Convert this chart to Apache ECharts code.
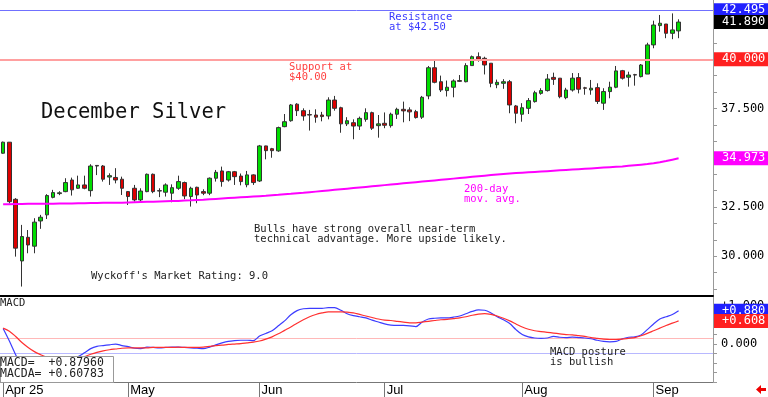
<!DOCTYPE html>
<html>
<head>
<meta charset="utf-8">
<script src="https://cdn.jsdelivr.net/npm/echarts@6/dist/echarts.min.js"></script>
<style>
  html, body { margin: 0; padding: 0; background: #fff; }
  #main { width: 768px; height: 397px; }
</style>
</head>
<body>
<div id="main"></div>
<script>
var MONO = '"DejaVu Sans Mono", monospace';

// trading days per month (Sep has 5 empty slots at the end)
var aprDays = [2, 3, 4, 7, 8, 9, 10, 11, 14, 15, 16, 17, 21, 22, 23, 24, 25, 28, 29, 30];
var mayDays = [1, 2, 5, 6, 7, 8, 9, 12, 13, 14, 15, 16, 19, 20, 21, 22, 23, 27, 28, 29, 30];
var junDays = [2, 3, 4, 5, 6, 9, 10, 11, 12, 13, 16, 17, 18, 20, 23, 24, 25, 26, 27, 30];
var julDays = [1, 2, 3, 7, 8, 9, 10, 11, 14, 15, 16, 17, 18, 21, 22, 23, 24, 25, 28, 29, 30, 31];
var augDays = [1, 4, 5, 6, 7, 8, 11, 12, 13, 14, 15, 18, 19, 20, 21, 22, 25, 26, 27, 28, 29];
var sepDays = [2, 3, 4, 5, 8, 9, 10, 11, 12, 15];
var monthNames = ['Apr 25', 'May', 'Jun', 'Jul', 'Aug', 'Sep'];

var opens = [
  35.23, 35.79, 32.89, 29.76, 30.96, 30.51, 31.79, 32.10, 32.99, 33.18,
  33.28, 33.87, 33.45, 33.62, 33.33, 34.61, 34.58, 34.02, 34.00, 33.91,
  33.28, 33.45, 32.86, 33.28, 34.16, 33.33, 33.25, 33.20, 33.45, 33.74,
  33.03, 33.50, 33.28, 33.20, 33.96, 34.33, 33.87, 34.29, 34.07, 33.63,
  34.13, 33.82, 35.60, 35.46, 35.35, 36.58, 36.88, 37.72, 37.39, 37.19,
  37.17, 37.17, 37.12, 37.93, 37.54, 36.72, 36.78, 36.61, 36.95, 37.29,
  36.63, 36.75, 36.63, 37.21, 37.46, 37.43, 37.34, 37.06, 38.14, 39.57,
  38.86, 38.41, 38.58, 38.92, 38.86, 39.68, 40.13, 40.05, 39.80, 38.71,
  38.78, 38.86, 37.63, 37.21, 37.51, 37.85, 38.27, 38.41, 39.08, 39.04,
  38.05, 38.44, 39.07, 38.55, 38.44, 38.56, 37.77, 38.36, 38.58, 39.42,
  39.09, 39.22, 39.12, 39.25, 40.73, 41.71, 41.79, 41.32, 41.44
];
var closes = [
  35.79, 32.77, 30.41, 31.00, 30.57, 31.73, 31.98, 33.08, 33.23, 33.22,
  33.74, 33.37, 33.62, 33.45, 34.58, 34.58, 33.91, 34.09, 33.87, 33.45,
  33.03, 32.86, 33.31, 34.16, 33.28, 33.31, 33.62, 33.48, 33.79, 33.06,
  33.45, 33.11, 33.20, 33.96, 34.26, 33.79, 34.29, 34.04, 33.79, 34.13,
  33.74, 35.60, 35.36, 35.36, 36.53, 36.83, 37.68, 37.39, 37.12, 37.17,
  37.06, 37.09, 37.93, 37.51, 36.72, 36.88, 36.61, 37.00, 37.29, 36.50,
  36.72, 36.65, 37.21, 37.46, 37.38, 37.33, 37.04, 38.07, 39.57, 38.83,
  38.44, 38.58, 38.90, 38.88, 39.68, 40.13, 40.00, 39.71, 38.78, 38.83,
  38.86, 37.68, 37.26, 37.54, 37.90, 38.30, 38.41, 39.00, 38.98, 38.10,
  38.44, 39.04, 38.48, 38.53, 38.53, 37.86, 38.36, 38.58, 39.41, 39.04,
  39.20, 39.20, 39.71, 40.73, 41.74, 41.83, 41.32, 41.49, 41.89
];
var lows = [
  35.20, 32.68, 29.98, 28.46, 30.15, 30.15, 31.39, 31.89, 32.94, 33.10,
  33.25, 33.08, 33.42, 33.40, 33.03, 34.12, 33.79, 33.62, 33.70, 33.11,
  32.60, 32.77, 32.77, 33.25, 33.20, 33.00, 33.03, 32.74, 33.37, 32.90,
  32.52, 32.69, 33.10, 33.10, 33.79, 33.53, 33.79, 33.62, 33.60, 33.50,
  33.62, 33.77, 34.92, 35.00, 35.30, 36.55, 36.83, 37.12, 36.88, 36.38,
  36.78, 36.85, 36.95, 37.39, 36.27, 36.61, 35.94, 36.41, 36.83, 36.41,
  36.02, 36.50, 36.53, 36.97, 36.80, 36.86, 36.99, 36.97, 37.97, 38.78,
  38.34, 38.11, 38.07, 38.85, 38.83, 39.68, 39.88, 39.23, 38.58, 38.53,
  38.50, 37.26, 36.75, 36.83, 37.22, 37.80, 38.20, 38.36, 38.70, 38.02,
  37.97, 38.36, 38.27, 38.20, 38.20, 37.73, 37.43, 38.02, 38.53, 38.97,
  38.61, 38.66, 39.08, 39.25, 40.56, 41.40, 41.07, 41.02, 41.07
];
var highs = [
  35.82, 35.80, 32.95, 31.59, 31.33, 31.93, 32.10, 33.15, 33.37, 33.30,
  33.96, 33.99, 34.09, 34.09, 34.67, 34.63, 34.63, 34.21, 34.47, 34.04,
  33.31, 33.62, 33.45, 34.20, 34.20, 33.45, 33.70, 33.65, 34.09, 33.79,
  33.53, 33.53, 33.40, 34.00, 34.38, 34.55, 34.33, 34.33, 34.20, 34.33,
  34.16, 35.65, 35.61, 35.50, 36.58, 37.22, 37.73, 37.77, 37.51, 37.43,
  37.46, 37.33, 38.07, 38.14, 37.59, 37.06, 36.95, 37.09, 37.51, 37.34,
  37.17, 37.30, 37.29, 37.54, 37.85, 37.56, 37.43, 38.14, 39.66, 39.96,
  39.17, 38.92, 38.98, 39.20, 39.80, 40.19, 40.35, 40.13, 39.80, 38.97,
  38.99, 38.95, 37.68, 37.77, 38.03, 38.40, 38.53, 39.25, 39.32, 39.04,
  38.55, 39.30, 39.30, 38.60, 38.95, 38.78, 38.53, 38.86, 39.66, 39.46,
  39.37, 39.26, 39.76, 40.84, 41.96, 42.25, 41.79, 42.33, 42.03
];
var ma200 = [
  32.64, 32.64, 32.65, 32.65, 32.66, 32.66, 32.66, 32.67, 32.67, 32.68,
  32.68, 32.68, 32.69, 32.69, 32.70, 32.70, 32.71, 32.71, 32.72, 32.72,
  32.73, 32.74, 32.75, 32.76, 32.77, 32.78, 32.79, 32.80, 32.81, 32.83,
  32.84, 32.86, 32.87, 32.89, 32.91, 32.93, 32.95, 32.97, 32.99, 33.01,
  33.03, 33.05, 33.07, 33.10, 33.12, 33.15, 33.17, 33.20, 33.22, 33.25,
  33.28, 33.31, 33.34, 33.37, 33.40, 33.43, 33.46, 33.49, 33.52, 33.55,
  33.58, 33.61, 33.64, 33.67, 33.70, 33.73, 33.76, 33.79, 33.82, 33.85,
  33.88, 33.91, 33.94, 33.97, 34.00, 34.03, 34.06, 34.09, 34.12, 34.15,
  34.18, 34.20, 34.22, 34.24, 34.26, 34.28, 34.30, 34.32, 34.34, 34.36,
  34.38, 34.40, 34.42, 34.44, 34.46, 34.48, 34.50, 34.52, 34.54, 34.56,
  34.59, 34.62, 34.65, 34.68, 34.72, 34.77, 34.83, 34.90, 34.97
];
var macd = [
  0.41, 0.08, -0.28, -0.60, -0.80, -0.85, -0.80, -0.70, -0.60, -0.52,
  -0.45, -0.38, -0.33, -0.23, -0.12, -0.06, -0.04, -0.02, 0.00, -0.04,
  -0.07, -0.11, -0.12, -0.08, -0.09, -0.10, -0.09, -0.08, -0.08, -0.09,
  -0.10, -0.11, -0.12, -0.08, -0.02, 0.03, 0.07, 0.09, 0.10, 0.10,
  0.09, 0.21, 0.28, 0.35, 0.48, 0.61, 0.77, 0.88, 0.93, 0.94,
  0.94, 0.94, 0.96, 0.96, 0.89, 0.80, 0.75, 0.72, 0.69, 0.63,
  0.58, 0.53, 0.50, 0.49, 0.49, 0.48, 0.46, 0.58, 0.66, 0.68,
  0.69, 0.69, 0.71, 0.74, 0.80, 0.86, 0.90, 0.89, 0.82, 0.72,
  0.64, 0.54, 0.38, 0.25, 0.19, 0.16, 0.15, 0.16, 0.20, 0.18,
  0.17, 0.18, 0.17, 0.16, 0.14, 0.10, 0.07, 0.06, 0.07, 0.14,
  0.18, 0.19, 0.24, 0.38, 0.53, 0.66, 0.72, 0.78, 0.88
];
var macdA = [
  0.42, 0.34, 0.20, 0.04, -0.09, -0.20, -0.28, -0.35, -0.40, -0.43,
  -0.43, -0.41, -0.38, -0.33, -0.27, -0.22, -0.18, -0.15, -0.13, -0.11,
  -0.10, -0.10, -0.10, -0.10, -0.09, -0.09, -0.09, -0.09, -0.08, -0.09,
  -0.09, -0.09, -0.08, -0.06, -0.04, -0.03, -0.01, 0.00, 0.01, 0.03,
  0.05, 0.08, 0.13, 0.19, 0.27, 0.36, 0.45, 0.55, 0.64, 0.72,
  0.78, 0.82, 0.85, 0.85, 0.85, 0.84, 0.82, 0.78, 0.74, 0.70,
  0.66, 0.63, 0.62, 0.60, 0.58, 0.56, 0.56, 0.58, 0.60, 0.62,
  0.64, 0.65, 0.67, 0.69, 0.72, 0.76, 0.79, 0.80, 0.78, 0.74,
  0.68, 0.61, 0.53, 0.45, 0.39, 0.35, 0.33, 0.31, 0.29, 0.27,
  0.25, 0.24, 0.22, 0.20, 0.17, 0.15, 0.13, 0.12, 0.12, 0.13,
  0.15, 0.17, 0.22, 0.28, 0.35, 0.42, 0.49, 0.55, 0.61
];

var resistance = 42.495;
var support = 40.0;
var lastClose = 41.890;
var lastMa = 34.973;
var lastMacd = 0.87960;
var lastMacdA = 0.60783;
var macdUpper = 0.16;
var macdLower = -0.24;
var priceLabels = [30, 32.5, 37.5];
var macdLabels = [0, 1];

// categories
var dates = [];
var monthStart = {};
[aprDays, mayDays, junDays, julDays, augDays, sepDays].forEach(function (days, m) {
  monthStart[dates.length] = monthNames[m];
  days.forEach(function (d) {
    dates.push(monthNames[m].slice(0, 3) + ' ' + d);
  });
});

var candleData = opens.map(function (o, i) {
  return [o, closes[i], lows[i], highs[i]];
});

var priceTicks = [];
for (var t = 28.333; t < 43; t += 2.5 / 3) priceTicks.push(+t.toFixed(3));
var macdTicks = [];
for (var k = -1; k <= 1.2; k += 0.25) macdTicks.push(k);

function isMonthStart(index) {
  return monthStart[index] !== undefined;
}

function boxLabel(text, bg) {
  return {
    show: true,
    position: 'end',
    distance: 1,
    formatter: text,
    color: '#fff',
    backgroundColor: bg,
    padding: [1, 6, 1, 8],
    fontFamily: MONO,
    fontSize: 12,
    lineHeight: 12
  };
}

var hidden = { color: 'rgba(0,0,0,0)', width: 0, type: 'solid' };

var chart = echarts.init(document.getElementById('main'));

var option = {
  animation: false,
  backgroundColor: '#fff',
  grid: [
    { left: 0, right: 55, top: 0, height: 296 },
    { left: 0, right: 55, top: 297, height: 85 }
  ],
  xAxis: [
    {
      type: 'category', gridIndex: 0, data: dates, boundaryGap: true,
      axisLine: { onZero: false, lineStyle: { color: '#000', width: 2 } },
      axisTick: { show: false }, axisLabel: { show: false },
      splitLine: { show: false }
    },
    {
      type: 'category', gridIndex: 1, data: dates, boundaryGap: true,
      axisLine: { onZero: false, lineStyle: { color: '#777', width: 1 } },
      axisTick: {
        show: true, alignWithLabel: true, length: 15,
        interval: isMonthStart,
        lineStyle: { color: '#777' }
      },
      axisLabel: {
        show: true, interval: isMonthStart, align: 'left',
        margin: 2, padding: [0, 0, 0, 2],
        color: '#000', fontFamily: '"Liberation Sans", Arial, sans-serif', fontSize: 13,
        formatter: function (v, i) { return monthStart[i] || ''; }
      },
      splitLine: { show: false }
    }
  ],
  yAxis: [
    {
      type: 'value', gridIndex: 0, position: 'right',
      min: 27.98, max: 43.01,
      axisLine: { show: true, lineStyle: { color: '#999' } },
      axisTick: { show: true, customValues: priceTicks, length: 4, lineStyle: { color: '#999' } },
      axisLabel: {
        customValues: priceLabels, margin: 8, color: '#000',
        fontFamily: MONO, fontSize: 12,
        formatter: function (v) { return v.toFixed(3); }
      },
      splitLine: { show: false }
    },
    {
      type: 'value', gridIndex: 1, position: 'right',
      min: -1, max: 1.24,
      axisLine: { show: true, lineStyle: { color: '#999' } },
      axisTick: { show: true, customValues: macdTicks, length: 4, lineStyle: { color: '#999' } },
      axisLabel: {
        customValues: macdLabels, margin: 8, color: '#000',
        fontFamily: MONO, fontSize: 12,
        formatter: function (v) { return (v > 0 ? '+' : '') + v.toFixed(3); }
      },
      splitLine: { show: false }
    }
  ],
  series: [
    {
      name: 'December Silver',
      type: 'candlestick',
      xAxisIndex: 0, yAxisIndex: 0,
      data: candleData,
      barWidth: 4,
      itemStyle: {
        color: '#00dd00', color0: '#dd0000',
        borderColor: '#333', borderColor0: '#333', borderWidth: 1
      },
      markLine: {
        silent: true, symbol: 'none', z: 3,
        data: [
          { yAxis: resistance, lineStyle: { color: '#7070ff', width: 1, type: 'solid' }, label: boxLabel('42.495', '#2020ff') },
          { yAxis: support, lineStyle: { color: '#ffa0a0', width: 2, type: 'solid' }, label: boxLabel('40.000', '#ff2020') },
          { yAxis: lastClose, lineStyle: hidden, label: boxLabel('41.890', '#000') }
        ]
      }
    },
    {
      name: '200-day',
      type: 'line',
      xAxisIndex: 0, yAxisIndex: 0,
      data: ma200,
      showSymbol: false,
      lineStyle: { color: '#ff00ff', width: 2 },
      itemStyle: { color: '#ff00ff' },
      markLine: {
        silent: true, symbol: 'none',
        data: [{ yAxis: lastMa, lineStyle: hidden, label: boxLabel('34.973', '#ff00ff') }]
      }
    },
    {
      name: 'MACD',
      type: 'line',
      xAxisIndex: 1, yAxisIndex: 1,
      data: macd,
      showSymbol: false, smooth: 0.3,
      lineStyle: { color: '#3c3cff', width: 1.2 },
      itemStyle: { color: '#3c3cff' },
      markLine: {
        silent: true, symbol: 'none', z: 1,
        data: [
          { yAxis: macdUpper, lineStyle: { color: '#ffb8b8', width: 1, type: 'solid' }, label: { show: false } },
          { yAxis: macdLower, lineStyle: { color: '#b8b8ff', width: 1, type: 'solid' }, label: { show: false } },
          { yAxis: lastMacd, lineStyle: hidden, label: boxLabel('+0.880', '#2020ff') }
        ]
      }
    },
    {
      name: 'MACDA',
      type: 'line',
      xAxisIndex: 1, yAxisIndex: 1,
      data: macdA,
      showSymbol: false, smooth: 0.3,
      lineStyle: { color: '#ff3030', width: 1.2 },
      itemStyle: { color: '#ff3030' },
      markLine: {
        silent: true, symbol: 'none',
        data: [{ yAxis: lastMacdA, lineStyle: hidden, label: boxLabel('+0.608', '#ff2020') }]
      }
    }
  ],
  graphic: [
    { type: 'text', x: 389, y: 12, z: 50, style: { text: 'Resistance\nat $42.50', fill: '#3a3aff', font: '10.5px ' + MONO, lineHeight: 10.5, verticalAlign: 'top' } },
    { type: 'text', x: 289, y: 62, z: 50, style: { text: 'Support at\n$40.00', fill: '#ff4040', font: '10.5px ' + MONO, lineHeight: 10.5, verticalAlign: 'top' } },
    { type: 'text', x: 41, y: 102, z: 50, style: { text: 'December Silver', fill: '#111', font: '20.5px ' + MONO, verticalAlign: 'top' } },
    { type: 'text', x: 464, y: 184, z: 50, style: { text: '200-day\nmov. avg.', fill: '#ff00ff', font: '10.5px ' + MONO, lineHeight: 10.5, verticalAlign: 'top' } },
    { type: 'text', x: 254, y: 224, z: 50, style: { text: 'Bulls have strong overall near-term\ntechnical advantage. More upside likely.', fill: '#222', font: '10.5px ' + MONO, lineHeight: 10.5, verticalAlign: 'top' } },
    { type: 'text', x: 91, y: 271, z: 50, style: { text: "Wyckoff's Market Rating: 9.0", fill: '#222', font: '10.5px ' + MONO, verticalAlign: 'top' } },
    { type: 'text', x: 0, y: 298, z: 50, style: { text: 'MACD', fill: '#222', font: '10.5px ' + MONO, verticalAlign: 'top' } },
    { type: 'text', x: 550, y: 347, z: 50, style: { text: 'MACD posture\nis bullish', fill: '#222', font: '10.5px ' + MONO, lineHeight: 10.5, verticalAlign: 'top' } },
    {
      type: 'rect', z: 60,
      shape: { x: 0.5, y: 356.5, width: 113, height: 26 },
      style: { fill: '#fff', stroke: '#999', lineWidth: 1 }
    },
    { type: 'text', x: 0, y: 358, z: 61, style: { text: 'MACD=  +' + lastMacd.toFixed(5) + '\nMACDA= +' + lastMacdA.toFixed(5), fill: '#222', font: '11.5px ' + MONO, lineHeight: 11, verticalAlign: 'top' } },
    {
      type: 'polygon', z: 50,
      shape: { points: [[756, 389.5], [761, 385], [761, 388], [766, 388], [766, 391], [761, 391], [761, 394]] },
      style: { fill: '#ee0000' }
    }
  ]
};

chart.setOption(option);
</script>
</body>
</html>
